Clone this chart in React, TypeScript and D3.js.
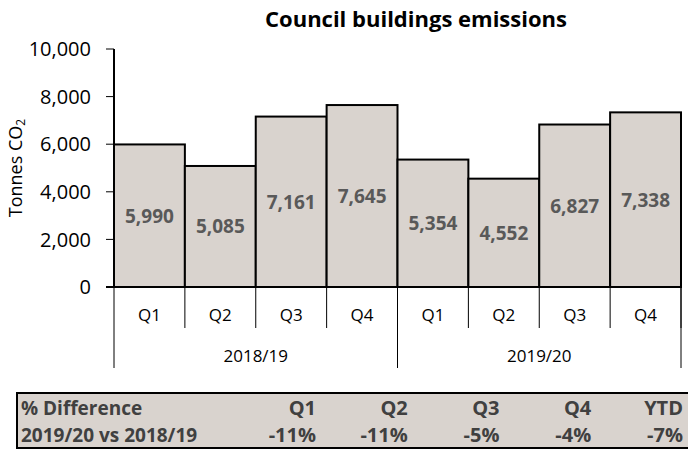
import React from 'react';
import * as d3 from 'd3';

const years = ['2018/19', '2019/20'];
const quarters = ['Q1', 'Q2', 'Q3', 'Q4'];
const emissions2018 = [5990, 5085, 7161, 7645];
const emissions2019 = [5354, 4552, 6827, 7338];
const yTicks = [0, 2000, 4000, 6000, 8000, 10000];
const diffHeaders = ['Q1', 'Q2', 'Q3', 'Q4', 'YTD'];
const diffValues = ['-11%', '-11%', '-5%', '-4%', '-7%'];

const W = 688;
const H = 450;
const FONT = '"Open Sans", Lato, sans-serif';

export default function App() {
  // flatten into one list of bars, year + quarter
  const bars = [
    ...emissions2018.map((v, i) => ({ key: `${years[0]}-${quarters[i]}`, year: years[0], q: quarters[i], value: v })),
    ...emissions2019.map((v, i) => ({ key: `${years[1]}-${quarters[i]}`, year: years[1], q: quarters[i], value: v })),
  ];

  const x = d3.scaleBand<string>()
    .domain(bars.map(d => d.key))
    .range([114, 681])
    .padding(0);

  const y = d3.scaleLinear().domain([0, 10000]).range([287, 49]);
  const fmt = d3.format(',');

  const yearX = (yr: string) => {
    const keys = bars.filter(b => b.year === yr).map(b => b.key);
    return [x(keys[0])!, x(keys[keys.length - 1])! + x.bandwidth()];
  };

  // table columns, right aligned
  const colRight = d3.scalePoint<string>()
    .domain(diffHeaders)
    .range([316, 683]);

  return (
    <svg width={W} height={H} style={{ position: 'absolute', left: 0, top: 0 }}>
      <rect width={W} height={H} fill="#fff" />
      <text x={416} y={27} textAnchor="middle" fontFamily={FONT} fontWeight={700} fontSize={22} fill="#000">
        Council buildings emissions
      </text>

      {/* bars */}
      {bars.map(d => (
        <g key={d.key}>
          <rect
            x={x(d.key)}
            y={y(d.value)}
            width={x.bandwidth()}
            height={y(0) - y(d.value)}
            fill="#d9d3ce"
            stroke="#000"
            strokeWidth={2}
          />
          <text
            x={x(d.key)! + x.bandwidth() / 2}
            y={(y(d.value) + y(0)) / 2}
            dy="0.36em"
            textAnchor="middle"
            fontFamily={FONT}
            fontWeight={700}
            fontSize={19}
            fill="#595959"
          >
            {fmt(d.value)}
          </text>
        </g>
      ))}

      {/* y axis */}
      <line x1={114} x2={114} y1={y(10000)} y2={y(0)} stroke="#000" strokeWidth={2} />
      {yTicks.map(t => (
        <g key={t}>
          <line x1={106} x2={114} y1={y(t)} y2={y(t)} stroke="#000" strokeWidth={1} />
          <text x={91} y={y(t)} dy="0.36em" textAnchor="end" fontFamily={FONT} fontSize={20} fill="#000">
            {fmt(t)}
          </text>
        </g>
      ))}
      <text
        transform={`translate(22,${(y(0) + y(10000)) / 2}) rotate(-90)`}
        textAnchor="middle"
        fontFamily={FONT}
        fontSize={18}
        fill="#000"
      >
        Tonnes CO<tspan fontSize={12} dy={3}>2</tspan>
      </text>

      {/* x axis */}
      <line x1={106} x2={681} y1={y(0)} y2={y(0)} stroke="#000" strokeWidth={2} />
      {bars.map(d => (
        <g key={'q' + d.key}>
          <line x1={x(d.key)! + x.bandwidth()} x2={x(d.key)! + x.bandwidth()} y1={y(0)} y2={328} stroke="#000" strokeWidth={1} />
          <text x={x(d.key)! + x.bandwidth() / 2} y={315} dy="0.36em" textAnchor="middle" fontFamily={FONT} fontSize={17} fill="#000">
            {d.q}
          </text>
        </g>
      ))}
      {years.map(yr => {
        const [a, b] = yearX(yr);
        return (
          <g key={yr}>
            <line x1={a} x2={a} y1={y(0)} y2={368} stroke="#000" strokeWidth={1} />
            <line x1={b} x2={b} y1={y(0)} y2={368} stroke="#000" strokeWidth={1} />
            <text x={(a + b) / 2} y={356} dy="0.36em" textAnchor="middle" fontFamily={FONT} fontSize={17} fill="#000">
              {yr}
            </text>
          </g>
        );
      })}

      {/* % difference table */}
      <rect x={17} y={393} width={680} height={55} fill="#d9d3ce" stroke="#000" strokeWidth={2} />
      <text x={21} y={415} fontFamily={FONT} fontWeight={700} fontSize={19} fill="#404040">% Difference</text>
      <text x={21} y={442} fontFamily={FONT} fontWeight={700} fontSize={19} fill="#404040">2019/20 vs 2018/19</text>
      {diffHeaders.map((h, i) => (
        <g key={h}>
          <text x={colRight(h)} y={415} textAnchor="end" fontFamily={FONT} fontWeight={700} fontSize={20} fill="#404040">{h}</text>
          <text x={colRight(h)} y={442} textAnchor="end" fontFamily={FONT} fontWeight={700} fontSize={20} fill="#404040">{diffValues[i]}</text>
        </g>
      ))}
    </svg>
  );
}
